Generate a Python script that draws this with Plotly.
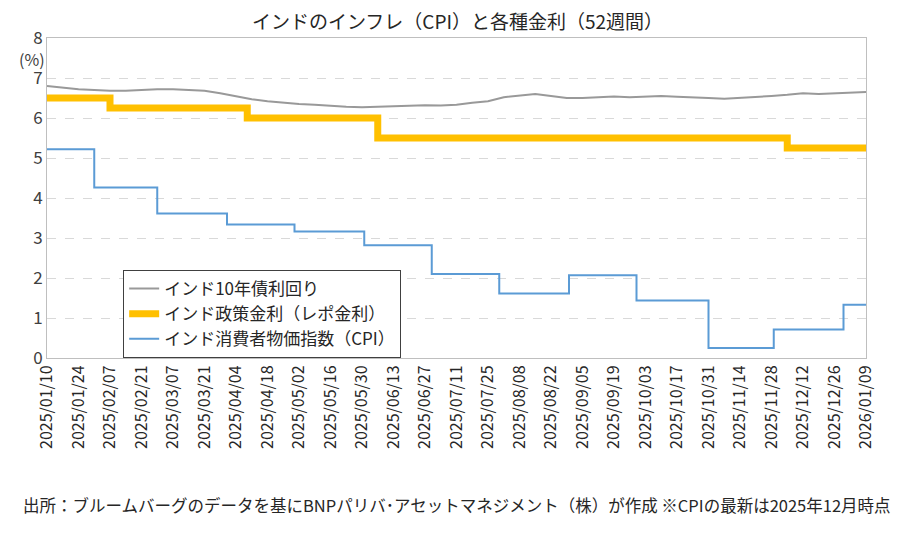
import plotly.graph_objects as go
import pandas as pd

# India 10Y yield (weekly)
bond_dates = pd.date_range("2025-01-10", "2026-01-09", freq="7D")
bond_vals = [6.80,6.76,6.72,6.70,6.68,6.68,6.70,6.72,6.72,6.70,6.68,6.62,6.55,6.47,6.42,6.38,
             6.35,6.33,6.30,6.28,6.27,6.28,6.30,6.30,6.32,6.31,6.33,6.38,6.42,6.52,6.56,6.60,
             6.55,6.50,6.50,6.52,6.54,6.52,6.53,6.55,6.53,6.52,6.50,6.48,6.50,6.52,6.55,6.58,
             6.62,6.60,6.62,6.63,6.65]
# Policy repo rate (step)
repo_dates = ["2025-01-10","2025-02-07","2025-04-09","2025-06-06","2025-12-05","2026-01-09"]
repo_vals = [6.50,6.25,6.00,5.50,5.25,5.25]
# CPI (step)
cpi_dates = ["2025-01-10","2025-01-31","2025-02-28","2025-03-31","2025-04-30","2025-05-31","2025-06-30",
             "2025-07-30","2025-08-30","2025-09-29","2025-10-31","2025-11-29","2025-12-30","2026-01-09"]
cpi_vals = [5.22,4.26,3.61,3.34,3.16,2.82,2.10,1.61,2.07,1.44,0.25,0.71,1.33,1.33]

tickvals = pd.date_range("2025-01-10", "2026-01-09", freq="14D")
ticktext = [d.strftime("%Y/%m/%d") for d in tickvals]

fig = go.Figure()
fig.add_trace(go.Scatter(x=bond_dates, y=bond_vals, mode="lines", name="インド10年債利回り",
                         line=dict(color="#999999", width=2)))
fig.add_trace(go.Scatter(x=repo_dates, y=repo_vals, mode="lines+markers", name="インド政策金利（レポ金利）",
                         line=dict(color="#FFC000", width=7, shape="hv"), marker=dict(size=5, color="#FFC000")))
fig.add_trace(go.Scatter(x=cpi_dates, y=cpi_vals, mode="lines", name="インド消費者物価指数（CPI）",
                         line=dict(color="#5B9BD5", width=2, shape="hv")))

font = "Noto Sans CJK JP"
fig.update_layout(
    width=899, height=541, margin=dict(l=39, r=41, t=30, b=191, autoexpand=False),
    plot_bgcolor="white", paper_bgcolor="white",
    font=dict(family=font, size=16, color="#262626"),
    title=dict(text="インドのインフレ（CPI）と各種金利（52週間）", x=0.5, y=0.985, xanchor="center", yanchor="top",
               font=dict(size=19, color="#262626")),
    xaxis=dict(range=["2025-01-10", "2026-01-09"], tickvals=tickvals, ticktext=ticktext, tickangle=-90,
               showgrid=False, showline=True, linecolor="#BFBFBF", mirror=True, ticks="", automargin=False,
               tickfont=dict(size=16, family=font, color="#262626")),
    yaxis=dict(range=[0, 8], dtick=1, showgrid=True, gridcolor="#D9D9D9", griddash="dash",
               showline=True, linecolor="#BFBFBF", mirror=True, zeroline=False, ticks="", automargin=False,
               tickfont=dict(size=17, family=font, color="#404040")),
    legend=dict(x=0.093, y=0.275, xanchor="left", yanchor="top", bgcolor="white",
                bordercolor="#404040", borderwidth=1, font=dict(size=17), tracegroupgap=0),
    showlegend=True,
)
fig.add_annotation(text="(%)", xref="paper", yref="paper", x=0.0, y=0.935, xanchor="right", yanchor="middle",
                   showarrow=False, font=dict(size=16, color="#404040"))
fig.add_annotation(text="出所：ブルームバーグのデータを基にBNPパリバ･アセットマネジメント（株）が作成 ※CPIの最新は2025年12月時点",
                   xref="paper", yref="paper", x=0.5, y=-0.46, xanchor="center", yanchor="middle", showarrow=False,
                   font=dict(size=16.5, color="#262626"))
fig.write_html("out.html")
